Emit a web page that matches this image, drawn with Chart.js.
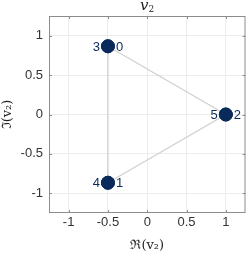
<!DOCTYPE html>
<html>
<head>
<meta charset="utf-8">
<script src="https://cdn.jsdelivr.net/npm/chart.js@4/dist/chart.umd.min.js"></script>
<style>
  html, body { margin: 0; padding: 0; background: #fff; overflow: hidden; }
  #wrap { width: 253px; height: 253px; }
</style>
</head>
<body>
<div id="wrap"><canvas id="roots"></canvas></div>
<script>
// node positions, index order 0..5
const pointX = [-0.5, -0.5, 1, -0.5, -0.5, 1];
const pointY = [0.866, -0.866, 0, 0.866, -0.866, 0];
const pointNames = ['0', '1', '2', '3', '4', '5'];
// which side of the marker each label sits on
const labelSide = ['right', 'right', 'right', 'left', 'left', 'left'];
const tickValues = [-1, -0.5, 0, 0.5, 1];

const markColor = '#0b2a5c';
const textColor = '#333333';

const pts = pointX.map((x, i) => ({ x: x, y: pointY[i] }));

const frameAndLabels = {
  id: 'frameAndLabels',
  afterDatasetsDraw(chart) {
    const ctx = chart.ctx;
    const a = chart.chartArea;
    const xs = chart.scales.x, ys = chart.scales.y;
    ctx.save();
    ctx.strokeStyle = '#8c8c8c';
    ctx.lineWidth = 1;
    ctx.strokeRect(a.left + 0.5, a.top + 0.5, a.right - a.left - 1, a.bottom - a.top - 1);
    // small inward tick marks
    ctx.beginPath();
    tickValues.forEach(v => {
      const px = Math.round(xs.getPixelForValue(v)) + 0.5;
      ctx.moveTo(px, a.bottom); ctx.lineTo(px, a.bottom - 3);
      ctx.moveTo(px, a.top); ctx.lineTo(px, a.top + 3);
      const py = Math.round(ys.getPixelForValue(v)) + 0.5;
      ctx.moveTo(a.left, py); ctx.lineTo(a.left + 3, py);
      ctx.moveTo(a.right, py); ctx.lineTo(a.right - 3, py);
    });
    ctx.stroke();

    ctx.fillStyle = markColor;
    ctx.font = '13px "Liberation Sans", Arial, sans-serif';
    ctx.textBaseline = 'middle';
    pts.forEach((p, i) => {
      const px = xs.getPixelForValue(p.x);
      const py = ys.getPixelForValue(p.y);
      if (labelSide[i] === 'right') {
        ctx.textAlign = 'left';
        ctx.fillText(pointNames[i], px + 8, py + 1);
      } else {
        ctx.textAlign = 'right';
        ctx.fillText(pointNames[i], px - 8, py + 1);
      }
    });

    // title
    ctx.fillStyle = '#222';
    ctx.textAlign = 'center';
    ctx.font = 'italic 15px "DejaVu Serif", serif';
    const cx = (a.left + a.right) / 2;
    ctx.fillText('v', cx - 3, 6);
    ctx.font = '9px "DejaVu Serif", serif';
    ctx.fillText('2', cx + 4, 10);
    ctx.restore();
  }
};

new Chart(document.getElementById('roots'), {
  type: 'scatter',
  data: {
    datasets: [
      {
        data: pts,
        order: 2,
        showLine: true,
        borderColor: '#cfcfcf',
        borderWidth: 1.2,
        pointRadius: 0,
        fill: false
      },
      {
        data: pts,
        order: 1,
        showLine: false,
        pointRadius: 6.5,
        pointHoverRadius: 6.5,
        pointBackgroundColor: markColor,
        pointBorderColor: markColor
      }
    ]
  },
  options: {
    responsive: true,
    maintainAspectRatio: false,
    animation: false,
    events: [],
    layout: { padding: { top: 16, right: 1, left: 0, bottom: 0 } },
    plugins: { legend: { display: false }, tooltip: { enabled: false } },
    scales: {
      x: {
        type: 'linear',
        min: -1.25,
        max: 1.25,
        afterBuildTicks: s => { s.ticks = tickValues.map(v => ({ value: v })); },
        afterFit: s => { s.height = 40; s.paddingLeft = 0; s.paddingRight = 0; },
        ticks: {
          color: textColor,
          padding: 2,
          maxRotation: 0,
          font: { family: '"Liberation Sans", Arial, sans-serif', size: 13 },
          callback: v => String(v)
        },
        grid: { color: '#ececec', drawTicks: false },
        border: { display: false },
        title: {
          display: true,
          text: 'ℜ(v₂)',
          color: '#222',
          padding: { top: 0, bottom: 0 },
          font: { family: '"DejaVu Serif", serif', size: 13 }
        }
      },
      y: {
        type: 'linear',
        min: -1.25,
        max: 1.25,
        afterBuildTicks: s => { s.ticks = tickValues.map(v => ({ value: v })); },
        afterFit: s => { s.width = 49; s.paddingTop = 0; s.paddingBottom = 0; },
        ticks: {
          color: textColor,
          padding: 6,
          font: { family: '"Liberation Sans", Arial, sans-serif', size: 13 },
          callback: v => String(v)
        },
        grid: { color: '#ececec', drawTicks: false },
        border: { display: false },
        title: {
          display: true,
          text: 'ℑ(v₂)',
          color: '#222',
          padding: { top: 0, bottom: 0 },
          font: { family: '"DejaVu Serif", serif', size: 13 }
        }
      }
    }
  },
  plugins: [frameAndLabels]
});
</script>
</body>
</html>
